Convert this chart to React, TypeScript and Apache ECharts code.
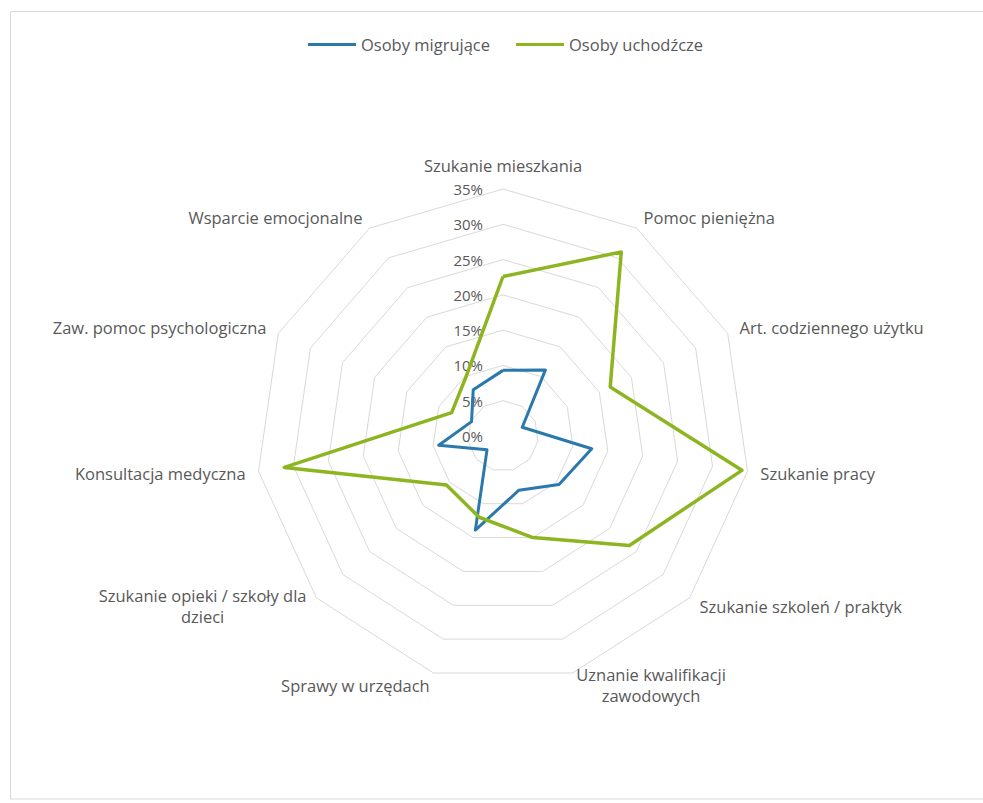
import React, { useEffect, useRef } from "react";
import * as echarts from "echarts";

const categories: string[] = [
  "Szukanie mieszkania",
  "Pomoc pieniężna",
  "Art. codziennego użytku",
  "Szukanie pracy",
  "Szukanie szkoleń / praktyk",
  "Uznanie kwalifikacji\nzawodowych",
  "Sprawy w urzędach",
  "Szukanie opieki / szkoły dla\ndzieci",
  "Konsultacja medyczna",
  "Zaw. pomoc psychologiczna",
  "Wsparcie emocjonalne",
];

const seriesNames: string[] = ["Osoby migrujące", "Osoby uchodźcze"];

const migrujace: number[] = [9.3, 11.1, 3.0, 12.7, 10.5, 8.0, 13.9, 3.0, 9.2, 4.9, 7.8];
const uchodzcze: number[] = [22.6, 31.0, 16.7, 34.2, 23.7, 15.0, 12.0, 10.6, 31.3, 8.0, 9.8];

const axisMax = 35;
const axisSplits = 7;

const BLUE = "#2A78AC";
const GREEN = "#8DB521";
const TEXT = "#595959";
const FONT = "Open Sans";
const NAME_SIZE = 16.5;

// ECharts radar runs counter-clockwise; reorder so categories appear clockwise.
const order: number[] = categories.map((_, i) => (i === 0 ? 0 : categories.length - i));
const reorder = <T,>(arr: T[]): T[] => order.map((k) => arr[k]);

export default function App() {
  const ref = useRef<HTMLDivElement>(null);

  useEffect(() => {
    if (!ref.current) return;
    const chart = echarts.init(ref.current, undefined, { renderer: "svg" });
    const option: any = {
      animation: false,
      backgroundColor: "#ffffff",
      graphic: [
        {
          type: "rect",
          shape: { x: 10.5, y: 11.5, width: 985, height: 787.5 },
          style: { fill: "none", stroke: "#D9D9D9", lineWidth: 1 },
          silent: true,
        },
      ],
      legend: {
        data: seriesNames,
        left: 303,
        top: 31,
        icon: "rect",
        itemWidth: 48,
        itemHeight: 3,
        itemGap: 26,
        textStyle: { color: TEXT, fontSize: NAME_SIZE, fontFamily: FONT },
      },
      radar: {
        center: [503, 436],
        radius: 247,
        startAngle: 90,
        shape: "polygon",
        splitNumber: axisSplits,
        nameGap: 13,
        indicator: reorder(categories).map((name, i) => {
          const ind: any = { name, min: 0, max: axisMax };
          if (i === 0) {
            ind.axisLabel = {
              show: true,
              color: TEXT,
              fontSize: 15,
              fontFamily: FONT,
              margin: 20,
              formatter: (v: number) => `${v}%`,
            };
          }
          return ind;
        }),
        axisName: {
          color: TEXT,
          fontSize: NAME_SIZE,
          fontFamily: FONT,
          lineHeight: 21,
          formatter: (name: string) => {
            const lines = name.split("\n");
            if (lines.length === 1) return name;
            return [lines[0], ...lines.slice(1).map((l) => `{c|${l}}`)].join("\n");
          },
          rich: {
            c: { align: "center", color: TEXT, fontSize: NAME_SIZE, fontFamily: FONT, lineHeight: 21 },
          },
        },
        splitLine: { lineStyle: { color: "#D9D9D9", width: 1 } },
        splitArea: { show: false },
        axisLine: { show: false },
        axisTick: { show: false },
        axisLabel: { show: false },
      },
      series: [
        {
          type: "radar",
          symbol: "none",
          data: [
            {
              name: seriesNames[0],
              value: reorder(migrujace),
              lineStyle: { color: BLUE, width: 3 },
              itemStyle: { color: BLUE },
            },
            {
              name: seriesNames[1],
              value: reorder(uchodzcze),
              lineStyle: { color: GREEN, width: 3.5 },
              itemStyle: { color: GREEN },
            },
          ],
        },
      ],
    };
    chart.setOption(option);
    return () => chart.dispose();
  }, []);

  return (
    <div
      ref={ref}
      style={{ position: "absolute", left: 0, top: 0, width: 983, height: 803 }}
    />
  );
}
